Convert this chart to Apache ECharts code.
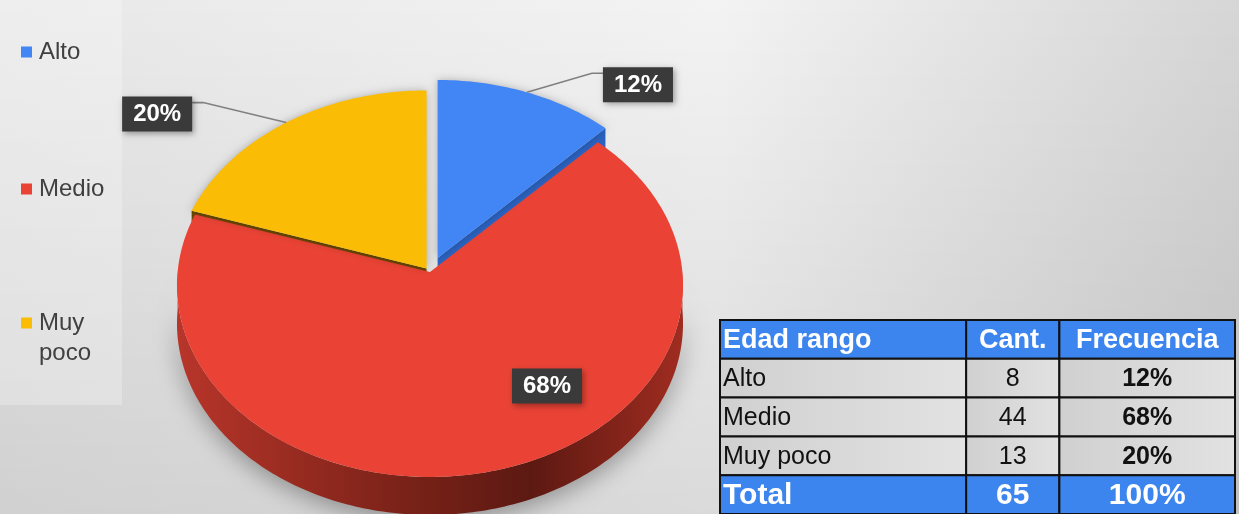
<!DOCTYPE html>
<html>
<head>
<meta charset="utf-8">
<script src="https://cdn.jsdelivr.net/npm/echarts@6/dist/echarts.min.js"></script>
<style>
html, body { margin: 0; padding: 0; }
#chart { width: 1239px; height: 514px; }
</style>
</head>
<body>
<div id="chart"></div>
<script>
// datos
var categories = ['Alto', 'Medio', 'Muy poco'];
var counts = [8, 44, 13];
var percents = [12, 68, 20];
var totalCount = 65;
var totalPercent = 100;
var tableHeader = ['Edad rango', 'Cant.', 'Frecuencia'];

var colors = ['#4285f4', '#ea4335', '#fbbc05'];
var sideColors = ['#2b63c2', '#8a2418', '#6b4800'];
var explode = [16, 0, 5];
var depth = 38;
var persp = 0.0705;   // perspectiva del disco
// etiqueta: fuera -> codo relativo al borde, dentro -> relativo al centro
var labelCfg = [
  { out: true, dx: 65, dy: -19 },
  { out: false, dx: 117, dy: 114 },
  { out: true, dx: -83, dy: -20 }
];
var colEdges = [0, 0.478, 0.659, 1];
var FONT = 'Liberation Sans, Arial, sans-serif';

var total = counts.reduce(function (a, b) { return a + b; }, 0);
var cum = [];
var acc = 0;
counts.forEach(function (v) { cum.push([acc, acc + v]); acc += v; });

var rows = [tableHeader];
categories.forEach(function (c, i) { rows.push([c, counts[i], percents[i] + '%']); });
rows.push(['Total', totalCount, totalPercent + '%']);

var myChart = echarts.init(document.getElementById('chart'));

function sliceRenderer(i) {
  return function (params, api) {
    var a0 = api.value(0) / total * 360;
    var a1 = api.value(1) / total * 360;
    var c = api.coord([0, 0]);
    var A = api.size([1, 0])[0];
    var B = api.size([0, 1])[1];
    function proj(deg) {
      var r = deg * Math.PI / 180;
      var k = 1 + persp * Math.cos(r);
      return [A * Math.sin(r) / k, -B * Math.cos(r) / k];
    }
    var m = proj((a0 + a1) / 2);
    var ml = Math.sqrt(m[0] * m[0] + m[1] * m[1]);
    var ex = explode[i] * m[0] / ml;
    var ey = explode[i] * m[1] / ml;
    function rim(deg, down) {
      var p = proj(deg);
      return [c[0] + p[0] + ex, c[1] + p[1] + ey + (down || 0)];
    }
    var V = [c[0] + ex, c[1] + ey];
    var children = [];

    // cara superior
    var top = [V];
    for (var a = a0; a < a1; a += 1) top.push(rim(a));
    top.push(rim(a1));
    children.push({
      type: 'polygon', z2: explode[i] > 0 ? 3 : 2,
      shape: { points: top },
      style: {
        fill: colors[i],
        shadowBlur: explode[i] > 0 ? 8 : 0,
        shadowColor: 'rgba(0,0,0,0.25)'
      }
    });

    // lateral curvo
    var lo = Math.max(a0, 90), hi = Math.min(a1, 270);
    if (lo < hi) {
      var side = [];
      for (var b = lo; b < hi; b += 1) side.push(rim(b));
      side.push(rim(hi));
      for (var d = hi; d > lo; d -= 1) side.push(rim(d, depth));
      side.push(rim(lo, depth));
      children.push({
        type: 'polygon', z2: 1,
        shape: { points: side },
        style: {
          fill: new echarts.graphic.LinearGradient(0, 0, 1, 0, [
            { offset: 0, color: '#b8352a' },
            { offset: 0.45, color: '#7a2218' },
            { offset: 0.7, color: '#5c1912' },
            { offset: 1, color: '#a02c20' }
          ]),
          shadowBlur: 24,
          shadowOffsetY: 6,
          shadowColor: 'rgba(0,0,0,0.35)'
        }
      });
    }

    // caras radiales de las porciones separadas
    if (explode[i] > 0) {
      [a0, a1].forEach(function (ang) {
        var R = rim(ang);
        children.push({
          type: 'polygon', z2: 1,
          shape: { points: [V, R, [R[0], R[1] + depth], [V[0], V[1] + depth]] },
          style: { fill: sideColors[i] }
        });
      });
    }

    // etiqueta
    var cfg = labelCfg[i];
    var txtStyle = {
      text: percents[i] + '%',
      fill: '#fff',
      font: 'bold 24px ' + FONT,
      backgroundColor: '#3a3a3a',
      padding: [6, 11, 5, 11],
      shadowBlur: 6,
      shadowOffsetX: 2,
      shadowOffsetY: 2,
      shadowColor: 'rgba(0,0,0,0.35)'
    };
    if (cfg.out) {
      var S = rim((a0 + a1) / 2);
      var E = [S[0] + cfg.dx, S[1] + cfg.dy];
      var dir = cfg.dx > 0 ? 1 : -1;
      var Bp = [E[0] + dir * 11, E[1]];
      children.push({
        type: 'polyline', z2: 4,
        shape: { points: [S, E, Bp] },
        style: { stroke: '#808080', lineWidth: 1.6, fill: null }
      });
      txtStyle.x = Bp[0];
      txtStyle.y = E[1] - 6;
      txtStyle.align = dir > 0 ? 'left' : 'right';
      txtStyle.verticalAlign = 'top';
    } else {
      txtStyle.x = c[0] + cfg.dx;
      txtStyle.y = c[1] + cfg.dy;
      txtStyle.align = 'center';
      txtStyle.verticalAlign = 'middle';
    }
    children.push({ type: 'text', z2: 5, style: txtStyle });

    return { type: 'group', children: children };
  };
}

function tableRenderer(params, api) {
  var idx = params.dataIndex;
  var row = rows[idx];
  var p = api.coord([0, idx]);
  var h = api.size([0, 1])[1];
  var y0 = p[1] - h / 2;
  var isBlue = idx === 0 || idx === rows.length - 1;
  var children = [];
  for (var j = 0; j < 3; j++) {
    var x0 = api.coord([colEdges[j], idx])[0];
    var x1 = api.coord([colEdges[j + 1], idx])[0];
    children.push({
      type: 'rect',
      shape: { x: x0, y: y0, width: x1 - x0, height: h },
      style: {
        fill: isBlue ? '#3c84ee' : new echarts.graphic.LinearGradient(0, 0, 1, 0, [
          { offset: 0, color: '#d0d0d0' },
          { offset: 1, color: '#e2e2e2' }
        ]),
        stroke: '#111',
        lineWidth: 2
      }
    });
    var size = idx === 0 ? 27 : (idx === rows.length - 1 ? 30 : 25);
    var bold = isBlue || j === 2;
    children.push({
      type: 'text',
      style: {
        text: String(row[j]),
        x: j === 0 ? x0 + 3 : (x0 + x1) / 2,
        y: p[1] + 1,
        align: j === 0 ? 'left' : 'center',
        verticalAlign: 'middle',
        fill: isBlue ? '#fff' : '#111',
        font: (bold ? 'bold ' : '') + size + 'px ' + FONT
      }
    });
  }
  return { type: 'group', children: children };
}

var legendTops = [32, 169, 303];

var option = {
  backgroundColor: new echarts.graphic.LinearGradient(0, 0, 1, 0, [
    { offset: 0, color: '#e8e8e8' },
    { offset: 0.58, color: '#f3f3f3' },
    { offset: 1, color: '#d6d6d6' }
  ]),
  animation: false,
  textStyle: { fontFamily: FONT },
  color: colors,
  graphic: [{
    type: 'rect', z: -2, silent: true,
    shape: { x: 0, y: 0, width: 1239, height: 514 },
    style: {
      fill: new echarts.graphic.LinearGradient(0, 0, 0, 1, [
        { offset: 0, color: 'rgba(0,0,0,0)' },
        { offset: 1, color: 'rgba(0,0,0,0.1)' }
      ])
    }
  }, {
    type: 'rect', z: -1, silent: true,
    shape: { x: 0, y: 0, width: 122, height: 405 },
    style: { fill: 'rgba(255,255,255,0.25)' }
  }],
  legend: categories.map(function (c, i) {
    var multi = c === 'Muy poco';
    return {
      data: [{
        name: c,
        icon: multi
          ? 'path://M0,1.5H11V12.5H0Z M0,0H0.01V0.01H0Z M0,44H0.01V43.99H0Z'
          : 'rect'
      }],
      left: 16,
      top: legendTops[i],
      orient: 'vertical',
      itemWidth: 11,
      itemHeight: multi ? 44 : 11,
      selectedMode: false,
      formatter: function (n) { return n === 'Muy poco' ? 'Muy\npoco' : n; },
      textStyle: { fontSize: 24, color: '#404040', lineHeight: 30, padding: [0, 0, 0, 2], fontFamily: FONT }
    };
  }),
  grid: [
    { left: 177.6, top: 81.5, width: 504.8, height: 381 },
    { left: 720, top: 320, width: 515, height: 194 }
  ],
  xAxis: [
    { type: 'value', min: -1, max: 1, show: false, gridIndex: 0 },
    { type: 'value', min: 0, max: 1, show: false, gridIndex: 1 }
  ],
  yAxis: [
    { type: 'value', min: -1, max: 1, show: false, gridIndex: 0 },
    { type: 'category', data: rows.map(function (r) { return String(r[0]); }), inverse: true, show: false, gridIndex: 1 }
  ],
  series: categories.map(function (c, i) {
    return {
      name: c,
      type: 'custom',
      xAxisIndex: 0,
      yAxisIndex: 0,
      clip: false,
      itemStyle: { color: colors[i] },
      renderItem: sliceRenderer(i),
      data: [[cum[i][0], cum[i][1]]]
    };
  }).concat([{
    name: 'tabla',
    type: 'custom',
    xAxisIndex: 1,
    yAxisIndex: 1,
    clip: false,
    renderItem: tableRenderer,
    data: rows.map(function (r, i) { return [0, i]; })
  }])
};

myChart.setOption(option);
</script>
</body>
</html>
